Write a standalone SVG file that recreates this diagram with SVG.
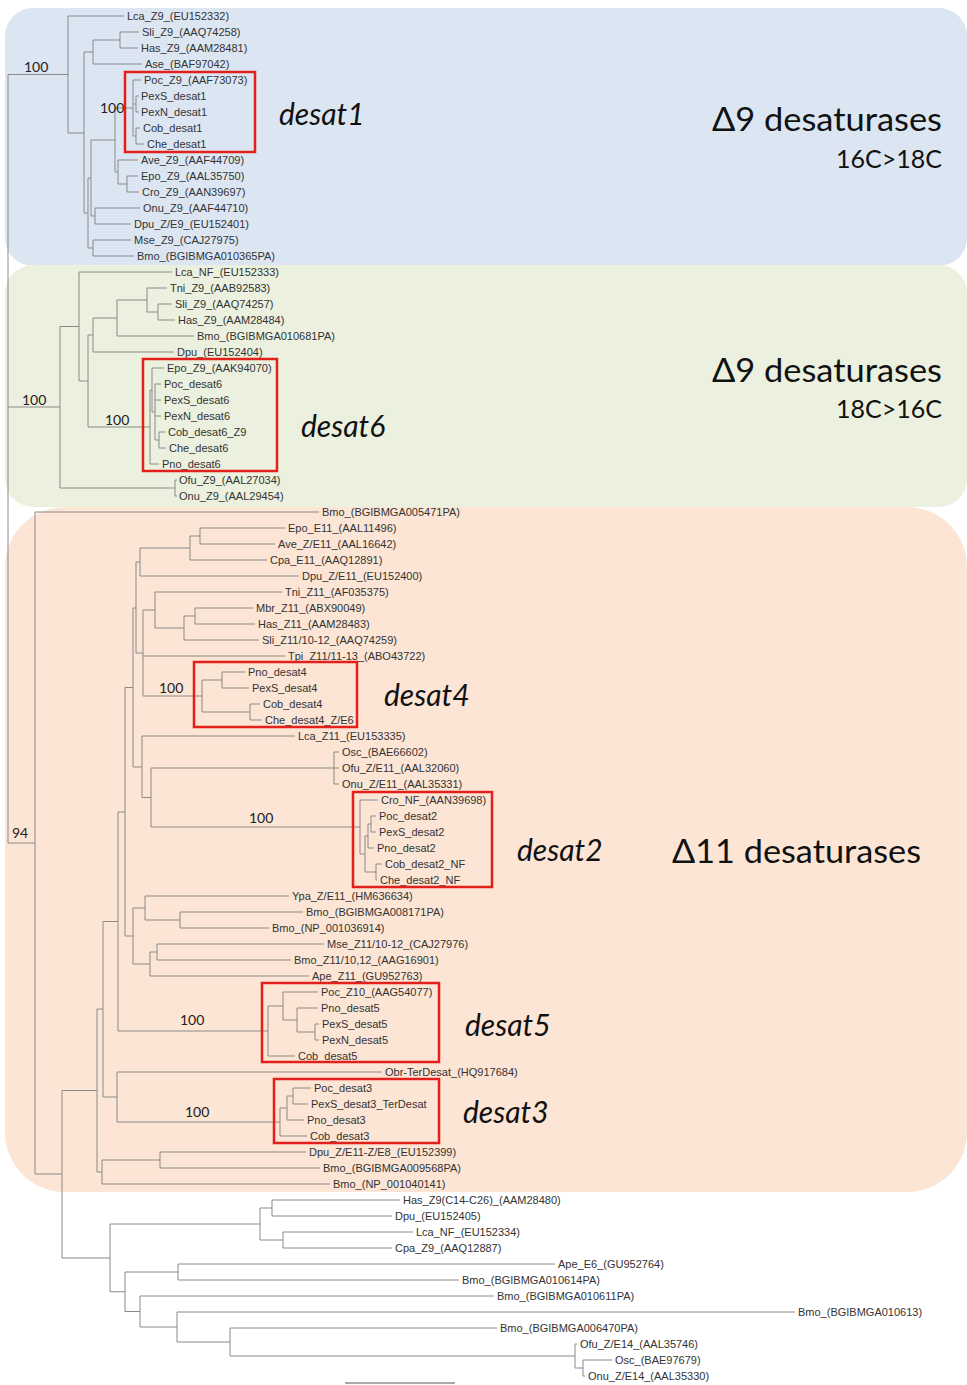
<svg xmlns="http://www.w3.org/2000/svg" width="967" height="1385" viewBox="0 0 967 1385">
<style>
.bg{fill:#fff}
.lf{font-family:"Liberation Sans",Arial,sans-serif;font-size:11px;fill:#333}
.br{fill:none;stroke:#8a8a8a;stroke-width:1}
.bs{font-family:Lato,"Open Sans",sans-serif;font-size:14px;fill:#222}
.big{font-family:Lato,"Open Sans",sans-serif;fill:#111;text-anchor:end}
.ds{font-family:Lato,"Open Sans",sans-serif;font-style:italic;font-size:30px;fill:#111}
.box{fill:none;stroke:#e3201b;stroke-width:2.5}
</style>
<rect class="bg" width="967" height="1385"/>
<g id="panels">
<rect x="5" y="8" width="962" height="258" rx="28" fill="#dce6f2"/>
<rect x="5" y="265" width="962" height="242" rx="28" fill="#ebf1de"/>
<rect x="5" y="507" width="962" height="685" rx="60" fill="#fce5d5"/>
</g>
<g id="connectors" class="br">
<path d="M8 74.5V843M8 74.5H68M8 407H60M8 843H35"/>
<path d="M68 16V133M68 16H124M68 133H84M84 52V213M84 52H93M93 40V64M93 40H120M120 32V48M120 32H139M120 48H138M93 64H142"/>
<path d="M84 213H88M88 178V248M88 178H91M91 140V216M91 140H115M115 108V172M115 108H133M133 80V136M133 80H141M133 104H136M136 96V112M136 96H139M136 112H139M133 136H136M136 128V144M136 128H140M136 144H144"/>
<path d="M115 172H118M118 160V184M118 160H138M118 184H127M127 176V192M127 176H138M127 192H139M91 216H95M95 208V224M95 208H140M95 224H131M88 248H93M93 240V256M93 240H131M93 256H134"/>
<path d="M60 326.5V488M60 326.5H79M79 272V381M79 272H172M79 381H88M88 335V427M88 335H93M93 318V352M93 352H174M93 318H117M117 300V336M117 336H194M117 300H147M147 288V312M147 288H167M147 312H158M158 304V320M158 304H172M158 320H175"/>
<path d="M88 427H150M150 390V464M150 464H159M150 390H152M152 368V412M152 368H164M152 412H155M155 384V440M155 384H161M155 400H161M155 416H161M155 440H159M159 432V448M159 432H165M159 448H166M60 488H175M175 480V496M175 480H177M175 496H177"/>
<path d="M35 512V1174M35 512H319M35 1174H62M62 1090.5V1258M62 1090.5H97M97 1009V1172M97 1009H103M103 921.5V1097M103 921.5H118M118 812V1031M118 812H125M125 687.5V936M125 687.5H133M133 608V767M133 608H136M136 562V653M136 562H140M140 548V576M140 576H299M140 548H190M190 536V560M190 560H267M190 536H200M200 528V544M200 528H285M200 544H275"/>
<path d="M136 653H143M143 610V696M143 656H285M143 610H155M155 592V628M155 592H282M155 628H184M184 616V640M184 640H259M184 616H195M195 608V624M195 608H253M195 624H255M143 696H202M202 680V712M202 680H222M222 672V688M222 672H245M222 688H249M202 712H250M250 704V720M250 704H260M250 720H262"/>
<path d="M133 767H142M142 736V797.5M142 736H295M142 797.5H151M151 768V827M151 768H334M334 752V784M334 752H339M334 768H339M334 784H339M151 827H360M360 800V854M360 800H378M360 854H365M365 836V872M365 836H368M368 824V848M368 848H374M368 824H371M371 816V832M371 816H376M371 832H376M365 872H376M376 864V880M376 864H382M376 880H377"/>
<path d="M125 936H133M133 908V964M133 908H145M145 896V920M145 896H289M145 920H180M180 912V928M180 912H303M180 928H269M133 964H150M150 952V976M150 976H309M150 952H157M157 944V960M157 944H324M157 960H291"/>
<path d="M118 1031H268M268 1006V1056M268 1056H295M268 1006H283M283 992V1020M283 992H318M283 1020H297M297 1008V1032M297 1008H318M297 1032H315M315 1024V1040M315 1024H319M315 1040H319"/>
<path d="M103 1097H117M117 1072V1122M117 1072H382M117 1122H280M280 1108V1136M280 1136H307M280 1108H287M287 1096V1120M287 1120H304M287 1096H293M293 1088V1104M293 1088H311M293 1104H308M97 1172H102M102 1160V1184M102 1184H330M102 1160H160M160 1152V1168M160 1152H306M160 1168H320"/>
<path d="M62 1258H110M110 1224V1291.75M110 1224H260M260 1208V1240M260 1208H272M272 1200V1216M272 1200H400M272 1216H392M260 1240H283M283 1232V1248M283 1232H413M283 1248H392"/>
<path d="M110 1291.75H125M125 1272V1311.5M125 1272H178M178 1264V1280M178 1264H555M178 1280H459M125 1311.5H140M140 1296V1327M140 1296H494M140 1327H177M177 1312V1342M177 1312H795M177 1342H230M230 1328V1356M230 1328H497M230 1356H575M575 1344V1368M575 1344H577M575 1368H583M583 1360V1376M583 1360H612M583 1376H585"/>
<path d="M345 1383H455" stroke="#aaa" stroke-width="2"/>
</g>
<g class="lf">
<g id="L0"><text x="127" y="20">Lca_Z9_(EU152332)</text></g>
<g id="L1"><text x="142" y="36">Sli_Z9_(AAQ74258)</text></g>
<g id="L2"><text x="141" y="52">Has_Z9_(AAM28481)</text></g>
<g id="L3"><text x="145" y="68">Ase_(BAF97042)</text></g>
<g id="L4"><text x="144" y="84">Poc_Z9_(AAF73073)</text></g>
<g id="L5"><text x="141" y="100">PexS_desat1</text></g>
<g id="L6"><text x="141" y="116">PexN_desat1</text></g>
<g id="L7"><text x="143" y="132">Cob_desat1</text></g>
<g id="L8"><text x="147" y="148">Che_desat1</text></g>
<g id="L9"><text x="141" y="164">Ave_Z9_(AAF44709)</text></g>
<g id="L10"><text x="141" y="180">Epo_Z9_(AAL35750)</text></g>
<g id="L11"><text x="142" y="196">Cro_Z9_(AAN39697)</text></g>
<g id="L12"><text x="143" y="212">Onu_Z9_(AAF44710)</text></g>
<g id="L13"><text x="134" y="228">Dpu_Z/E9_(EU152401)</text></g>
<g id="L14"><text x="134" y="244">Mse_Z9_(CAJ27975)</text></g>
<g id="L15"><text x="137" y="260">Bmo_(BGIBMGA010365PA)</text></g>
<g id="L16"><text x="175" y="276">Lca_NF_(EU152333)</text></g>
<g id="L17"><text x="170" y="292">Tni_Z9_(AAB92583)</text></g>
<g id="L18"><text x="175" y="308">Sli_Z9_(AAQ74257)</text></g>
<g id="L19"><text x="178" y="324">Has_Z9_(AAM28484)</text></g>
<g id="L20"><text x="197" y="340">Bmo_(BGIBMGA010681PA)</text></g>
<g id="L21"><text x="177" y="356">Dpu_(EU152404)</text></g>
<g id="L22"><text x="167" y="372">Epo_Z9_(AAK94070)</text></g>
<g id="L23"><text x="164" y="388">Poc_desat6</text></g>
<g id="L24"><text x="164" y="404">PexS_desat6</text></g>
<g id="L25"><text x="164" y="420">PexN_desat6</text></g>
<g id="L26"><text x="168" y="436">Cob_desat6_Z9</text></g>
<g id="L27"><text x="169" y="452">Che_desat6</text></g>
<g id="L28"><text x="162" y="468">Pno_desat6</text></g>
<g id="L29"><text x="179" y="484">Ofu_Z9_(AAL27034)</text></g>
<g id="L30"><text x="179" y="500">Onu_Z9_(AAL29454)</text></g>
<g id="L31"><text x="322" y="516">Bmo_(BGIBMGA005471PA)</text></g>
<g id="L32"><text x="288" y="532">Epo_E11_(AAL11496)</text></g>
<g id="L33"><text x="278" y="548">Ave_Z/E11_(AAL16642)</text></g>
<g id="L34"><text x="270" y="564">Cpa_E11_(AAQ12891)</text></g>
<g id="L35"><text x="302" y="580">Dpu_Z/E11_(EU152400)</text></g>
<g id="L36"><text x="285" y="596">Tni_Z11_(AF035375)</text></g>
<g id="L37"><text x="256" y="612">Mbr_Z11_(ABX90049)</text></g>
<g id="L38"><text x="258" y="628">Has_Z11_(AAM28483)</text></g>
<g id="L39"><text x="262" y="644">Sli_Z11/10-12_(AAQ74259)</text></g>
<g id="L40"><text x="288" y="660">Tpi_Z11/11-13_(ABO43722)</text></g>
<g id="L41"><text x="248" y="676">Pno_desat4</text></g>
<g id="L42"><text x="252" y="692">PexS_desat4</text></g>
<g id="L43"><text x="263" y="708">Cob_desat4</text></g>
<g id="L44"><text x="265" y="724">Che_desat4_Z/E6</text></g>
<g id="L45"><text x="298" y="740">Lca_Z11_(EU153335)</text></g>
<g id="L46"><text x="342" y="756">Osc_(BAE66602)</text></g>
<g id="L47"><text x="342" y="772">Ofu_Z/E11_(AAL32060)</text></g>
<g id="L48"><text x="342" y="788">Onu_Z/E11_(AAL35331)</text></g>
<g id="L49"><text x="381" y="804">Cro_NF_(AAN39698)</text></g>
<g id="L50"><text x="379" y="820">Poc_desat2</text></g>
<g id="L51"><text x="379" y="836">PexS_desat2</text></g>
<g id="L52"><text x="377" y="852">Pno_desat2</text></g>
<g id="L53"><text x="385" y="868">Cob_desat2_NF</text></g>
<g id="L54"><text x="380" y="884">Che_desat2_NF</text></g>
<g id="L55"><text x="292" y="900">Ypa_Z/E11_(HM636634)</text></g>
<g id="L56"><text x="306" y="916">Bmo_(BGIBMGA008171PA)</text></g>
<g id="L57"><text x="272" y="932">Bmo_(NP_001036914)</text></g>
<g id="L58"><text x="327" y="948">Mse_Z11/10-12_(CAJ27976)</text></g>
<g id="L59"><text x="294" y="964">Bmo_Z11/10,12_(AAG16901)</text></g>
<g id="L60"><text x="312" y="980">Ape_Z11_(GU952763)</text></g>
<g id="L61"><text x="321" y="996">Poc_Z10_(AAG54077)</text></g>
<g id="L62"><text x="321" y="1012">Pno_desat5</text></g>
<g id="L63"><text x="322" y="1028">PexS_desat5</text></g>
<g id="L64"><text x="322" y="1044">PexN_desat5</text></g>
<g id="L65"><text x="298" y="1060">Cob_desat5</text></g>
<g id="L66"><text x="385" y="1076">Obr-TerDesat_(HQ917684)</text></g>
<g id="L67"><text x="314" y="1092">Poc_desat3</text></g>
<g id="L68"><text x="311" y="1108">PexS_desat3_TerDesat</text></g>
<g id="L69"><text x="307" y="1124">Pno_desat3</text></g>
<g id="L70"><text x="310" y="1140">Cob_desat3</text></g>
<g id="L71"><text x="309" y="1156">Dpu_Z/E11-Z/E8_(EU152399)</text></g>
<g id="L72"><text x="323" y="1172">Bmo_(BGIBMGA009568PA)</text></g>
<g id="L73"><text x="333" y="1188">Bmo_(NP_001040141)</text></g>
<g id="L74"><text x="403" y="1204">Has_Z9(C14-C26)_(AAM28480)</text></g>
<g id="L75"><text x="395" y="1220">Dpu_(EU152405)</text></g>
<g id="L76"><text x="416" y="1236">Lca_NF_(EU152334)</text></g>
<g id="L77"><text x="395" y="1252">Cpa_Z9_(AAQ12887)</text></g>
<g id="L78"><text x="558" y="1268">Ape_E6_(GU952764)</text></g>
<g id="L79"><text x="462" y="1284">Bmo_(BGIBMGA010614PA)</text></g>
<g id="L80"><text x="497" y="1300">Bmo_(BGIBMGA010611PA)</text></g>
<g id="L81"><text x="798" y="1316">Bmo_(BGIBMGA010613)</text></g>
<g id="L82"><text x="500" y="1332">Bmo_(BGIBMGA006470PA)</text></g>
<g id="L83"><text x="580" y="1348">Ofu_Z/E14_(AAL35746)</text></g>
<g id="L84"><text x="615" y="1364">Osc_(BAE97679)</text></g>
<g id="L85"><text x="588" y="1380">Onu_Z/E14_(AAL35330)</text></g>
</g>
<g id="bootstrap" class="bs">
<text x="24" y="72">100</text>
<text x="100" y="113">100</text>
<text x="22" y="405">100</text>
<text x="105" y="425">100</text>
<text x="159" y="693">100</text>
<text x="249" y="823">100</text>
<text x="12" y="838">94</text>
<text x="180" y="1025">100</text>
<text x="185" y="1117">100</text>
</g>
<g id="boxes" class="box">
<rect x="125" y="72" width="130" height="80"/>
<rect x="143" y="359" width="134" height="112"/>
<rect x="194" y="662" width="163" height="65"/>
<rect x="353" y="792" width="139" height="95"/>
<rect x="262" y="983" width="177" height="79"/>
<rect x="274" y="1079" width="165" height="64"/>
</g>
<g id="clade-labels" class="ds">
<text x="279" y="125">desat1</text>
<text x="301" y="437">desat6</text>
<text x="384" y="706">desat4</text>
<text x="517" y="861">desat2</text>
<text x="465" y="1036">desat5</text>
<text x="463" y="1123">desat3</text>
</g>
<g id="group-labels" class="big">
<text x="942" y="131" font-size="33" textLength="230" lengthAdjust="spacingAndGlyphs">Δ9 desaturases</text>
<text x="942" y="168" font-size="25">16C&gt;18C</text>
<text x="942" y="382" font-size="33" textLength="230" lengthAdjust="spacingAndGlyphs">Δ9 desaturases</text>
<text x="942" y="418" font-size="25">18C&gt;16C</text>
<text x="921" y="863" font-size="33" textLength="249" lengthAdjust="spacingAndGlyphs">Δ11 desaturases</text>
</g>
</svg>
